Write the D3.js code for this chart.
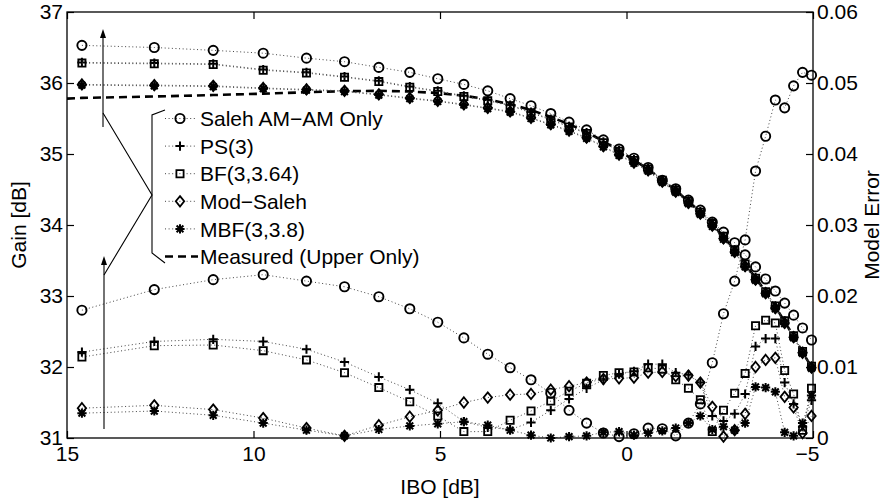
<!DOCTYPE html>
<html>
<head>
<meta charset="utf-8">
<script src="https://cdn.jsdelivr.net/npm/d3@7"></script>
<style>
  html, body { margin: 0; padding: 0; background: #fff; }
  svg { display: block; }
  text { font-family: "Liberation Sans", Arial, Helvetica, sans-serif; fill: #000; }
</style>
</head>
<body>
<svg id="chart" width="884" height="499"></svg>
<script>
// Input back-off (dB) of every model sample point
const ibo = [14.60, 12.66, 11.08, 9.74, 8.58, 7.56, 6.64, 5.81, 5.06, 4.36, 3.72, 3.12, 2.56, 2.03, 1.54, 1.07, 0.62, 0.20, -0.20, -0.58, -0.96, -1.32, -1.66, -1.98, -2.30, -2.60, -2.90, -3.18, -3.46, -3.73, -3.99, -4.24, -4.48, -4.72, -4.96];

// Gain of each model (dB, left axis)
const gainSaleh = [36.53, 36.50, 36.46, 36.42, 36.35, 36.30, 36.22, 36.15, 36.06, 35.98, 35.89, 35.78, 35.68, 35.57, 35.45, 35.34, 35.20, 35.07, 34.94, 34.81, 34.63, 34.51, 34.35, 34.21, 34.04, 33.90, 33.75, 33.58, 33.41, 33.24, 33.07, 32.90, 32.73, 32.55, 32.38];
const gainPS    = [36.29, 36.28, 36.27, 36.19, 36.15, 36.09, 36.03, 35.95, 35.89, 35.82, 35.76, 35.69, 35.59, 35.49, 35.39, 35.30, 35.17, 35.05, 34.92, 34.80, 34.64, 34.50, 34.34, 34.19, 34.03, 33.84, 33.65, 33.45, 33.26, 33.06, 32.86, 32.65, 32.44, 32.22, 32.01];
const gainBF    = [36.28, 36.27, 36.26, 36.18, 36.14, 36.08, 36.02, 35.94, 35.88, 35.81, 35.75, 35.68, 35.58, 35.48, 35.38, 35.29, 35.16, 35.04, 34.91, 34.79, 34.63, 34.49, 34.33, 34.18, 34.02, 33.84, 33.65, 33.45, 33.25, 33.06, 32.86, 32.65, 32.44, 32.22, 32.01];
const gainMod   = [35.98, 35.97, 35.96, 35.93, 35.91, 35.89, 35.84, 35.79, 35.75, 35.70, 35.65, 35.60, 35.51, 35.42, 35.33, 35.23, 35.11, 34.99, 34.88, 34.77, 34.61, 34.47, 34.31, 34.16, 33.99, 33.81, 33.62, 33.42, 33.23, 33.04, 32.83, 32.62, 32.42, 32.20, 31.99];
const gainMBF   = [35.97, 35.96, 35.95, 35.92, 35.90, 35.88, 35.83, 35.78, 35.74, 35.69, 35.64, 35.59, 35.50, 35.41, 35.32, 35.22, 35.10, 34.98, 34.87, 34.76, 34.60, 34.46, 34.30, 34.15, 33.98, 33.80, 33.61, 33.41, 33.22, 33.03, 32.82, 32.61, 32.41, 32.19, 31.98];

// Measured gain, upper curve only (dB)
const measIbo  = [15.00, 14.60, 12.66, 11.08, 9.74, 8.58, 7.56, 6.64, 5.81, 5.06, 4.36, 3.72, 3.12, 2.56, 2.03, 1.54, 1.07, 0.62, 0.20, -0.20, -0.58, -0.96, -1.32, -1.66, -1.98, -2.30, -2.60, -2.90, -3.18, -3.46, -3.73, -3.99, -4.24, -4.48, -4.72, -4.96];
const measGain = [35.78, 35.79, 35.81, 35.83, 35.85, 35.87, 35.885, 35.89, 35.88, 35.86, 35.82, 35.77, 35.70, 35.62, 35.52, 35.42, 35.31, 35.18, 35.05, 34.91, 34.79, 34.63, 34.49, 34.33, 34.18, 34.01, 33.84, 33.65, 33.45, 33.26, 33.06, 32.85, 32.64, 32.43, 32.21, 32.00];

// Model error of each model (right axis)
const errSaleh = [0.0180, 0.0209, 0.0223, 0.0230, 0.0221, 0.0213, 0.0199, 0.0182, 0.0163, 0.0141, 0.0118, 0.0099, 0.0082, 0.0063, 0.0039, 0.0021, 0.0007, 0.0002, 0.0006, 0.0014, 0.0013, 0.0003, 0.0021, 0.0048, 0.0106, 0.0175, 0.0221, 0.0279, 0.0376, 0.0425, 0.0476, 0.0465, 0.0496, 0.0515, 0.0511];
const errPS    = [0.0121, 0.0136, 0.0139, 0.0136, 0.0125, 0.0107, 0.0086, 0.0068, 0.0049, 0.0023, 0.0015, 0.0012, 0.0022, 0.0039, 0.0055, 0.0070, 0.0082, 0.0090, 0.0094, 0.0104, 0.0104, 0.0092, 0.0089, 0.0078, 0.0031, 0.0024, 0.0034, 0.0062, 0.0129, 0.0140, 0.0140, 0.0078, 0.0048, 0.0016, 0.0053];
const errBF    = [0.0114, 0.0130, 0.0131, 0.0123, 0.0110, 0.0092, 0.0071, 0.0051, 0.0031, 0.0009, 0.0009, 0.0025, 0.0038, 0.0052, 0.0066, 0.0077, 0.0088, 0.0092, 0.0093, 0.0099, 0.0097, 0.0082, 0.0070, 0.0054, 0.0009, 0.0039, 0.0063, 0.0091, 0.0158, 0.0166, 0.0162, 0.0095, 0.0062, 0.0011, 0.0070];
const errMod   = [0.0042, 0.0046, 0.0040, 0.0028, 0.0014, 0.0003, 0.0018, 0.0030, 0.0039, 0.0050, 0.0057, 0.0061, 0.0062, 0.0068, 0.0073, 0.0078, 0.0083, 0.0084, 0.0085, 0.0092, 0.0093, 0.0087, 0.0088, 0.0078, 0.0044, 0.0002, 0.0011, 0.0034, 0.0100, 0.0110, 0.0113, 0.0058, 0.0043, 0.0007, 0.0031];
const errMBF   = [0.0035, 0.0038, 0.0032, 0.0021, 0.0011, 0.0003, 0.0012, 0.0017, 0.0020, 0.0023, 0.0018, 0.0011, 0.0004, 0.0000, 0.0002, 0.0003, 0.0008, 0.0009, 0.0004, 0.0007, 0.0010, 0.0014, 0.0021, 0.0031, 0.0012, 0.0016, 0.0011, 0.0021, 0.0072, 0.0071, 0.0065, 0.0008, 0.0003, 0.0021, 0.0060];

// Axis ticks and legend text
const xTicks = [15, 10, 5, 0, -5];
const gainTicks = [31, 32, 33, 34, 35, 36, 37];
const errTicks = [0, 0.01, 0.02, 0.03, 0.04, 0.05, 0.06];
const legendLabels = ["Saleh AM\u2212AM Only", "PS(3)", "BF(3,3.64)", "Mod\u2212Saleh", "MBF(3,3.8)", "Measured (Upper Only)"];
const markerTypes = ["circle", "plus", "square", "diamond", "star"];

const series = [
  { marker: markerTypes[0], gain: gainSaleh, err: errSaleh },
  { marker: markerTypes[1], gain: gainPS,    err: errPS },
  { marker: markerTypes[2], gain: gainBF,    err: errBF },
  { marker: markerTypes[3], gain: gainMod,   err: errMod },
  { marker: markerTypes[4], gain: gainMBF,   err: errMBF }
];

const svg = d3.select("#chart");
const L = 67, R = 813, T = 12, B = 438;
const FS = 21;

const x = d3.scaleLinear().domain([15, -5]).range([L, R]);
const yGain = d3.scaleLinear().domain([31, 37]).range([B, T]);
const yErr = d3.scaleLinear().domain([0, 0.06]).range([B, T]);

// marker shapes
function markerPath(type, cx, cy) {
  switch (type) {
    case "square": return `M${cx-3.6},${cy-3.6}H${cx+3.6}V${cy+3.6}H${cx-3.6}Z`;
    case "diamond": return `M${cx},${cy-5.2}L${cx+4.2},${cy}L${cx},${cy+5.2}L${cx-4.2},${cy}Z`;
    case "plus": return `M${cx-4.6},${cy}H${cx+4.6}M${cx},${cy-4.6}V${cy+4.6}`;
    case "star": return `M${cx-4.6},${cy}H${cx+4.6}M${cx},${cy-4.6}V${cy+4.6}` +
                        `M${cx-3.4},${cy-3.4}L${cx+3.4},${cy+3.4}M${cx-3.4},${cy+3.4}L${cx+3.4},${cy-3.4}`;
  }
  return "";
}
function drawMarker(g, type, cx, cy) {
  if (type === "circle") {
    g.append("circle").attr("cx", cx).attr("cy", cy).attr("r", 4.6)
      .attr("fill", "none").attr("stroke", "#000").attr("stroke-width", 1.9);
  } else {
    g.append("path").attr("d", markerPath(type, cx, cy))
      .attr("fill", "none").attr("stroke", "#000")
      .attr("stroke-width", type === "star" || type === "plus" ? 2 : 1.8);
  }
}

const plot = svg.append("g");
const dotted = { stroke: "#444", width: 1, dash: "1,2.6" };

// measured gain: thick dashed line
plot.append("path")
  .datum(measIbo.map((v, i) => [v, measGain[i]]))
  .attr("d", d3.line().x(d => x(d[0])).y(d => yGain(d[1])))
  .attr("fill", "none").attr("stroke", "#000").attr("stroke-width", 2.6)
  .attr("stroke-dasharray", "8,5");

// model curves: gain (left axis) and error (right axis)
series.forEach(s => {
  [[s.gain, yGain], [s.err, yErr]].forEach(([vals, ys]) => {
    const pts = ibo.map((v, i) => [x(v), ys(vals[i])]);
    plot.append("path").datum(pts)
      .attr("d", d3.line())
      .attr("fill", "none").attr("stroke", dotted.stroke)
      .attr("stroke-width", dotted.width).attr("stroke-dasharray", dotted.dash);
    const mg = plot.append("g");
    pts.forEach(p => drawMarker(mg, s.marker, p[0], p[1]));
  });
});

// axes with inward ticks
function styleAxis(g) {
  g.select(".domain").remove();
  g.selectAll(".tick line").attr("stroke", "#000").attr("stroke-width", 1.2);
  g.selectAll(".tick text").attr("font-size", FS)
    .attr("font-family", "'Liberation Sans', Arial, Helvetica, sans-serif");
}
const xAxisG = svg.append("g").attr("transform", `translate(0,${B})`)
  .call(d3.axisBottom(x).tickValues(xTicks).tickSize(-7).tickPadding(8)).call(styleAxis);
// digits stay centred on the tick; the minus sign hangs to the left
xAxisG.selectAll(".tick text").filter(d => d < 0).attr("dx", -6);
svg.append("g").attr("transform", `translate(0,${T})`)
  .call(d3.axisTop(x).tickValues(xTicks).tickSize(-7).tickFormat("")).call(styleAxis);
svg.append("g").attr("transform", `translate(${L},0)`)
  .call(d3.axisLeft(yGain).tickValues(gainTicks).tickSize(-7).tickPadding(4)
    .tickFormat(d3.format("d"))).call(styleAxis);
svg.append("g").attr("transform", `translate(${R},0)`)
  .call(d3.axisRight(yErr).tickValues(errTicks).tickSize(-7).tickPadding(4)
    .tickFormat(d => d === 0 ? "0" : d3.format(".2f")(d))).call(styleAxis);

// frame
svg.append("rect").attr("x", L).attr("y", T).attr("width", R - L).attr("height", B - T)
  .attr("fill", "none").attr("stroke", "#000").attr("stroke-width", 1.3);

// axis titles
svg.append("text").attr("transform", `translate(${(L + R) / 2},494)`)
  .attr("text-anchor", "middle").attr("font-size", FS).text("IBO [dB]");
svg.append("text").attr("transform", `translate(26,${(T + B) / 2}) rotate(-90)`)
  .attr("text-anchor", "middle").attr("font-size", FS).text("Gain [dB]");
svg.append("text").attr("transform", `translate(879,${(T + B) / 2}) rotate(-90)`)
  .attr("text-anchor", "middle").attr("font-size", FS).text("Model Error");

// legend
const leg = svg.append("g");
const rowY = i => 118.5 + i * 27.6;
legendLabels.forEach((lab, i) => {
  const cy = rowY(i);
  if (i < 5) {
    leg.append("line").attr("x1", 165).attr("x2", 195).attr("y1", cy).attr("y2", cy)
      .attr("stroke", dotted.stroke).attr("stroke-width", dotted.width).attr("stroke-dasharray", dotted.dash);
    drawMarker(leg, markerTypes[i], 180, cy);
  } else {
    leg.append("line").attr("x1", 165).attr("x2", 198).attr("y1", cy).attr("y2", cy)
      .attr("stroke", "#000").attr("stroke-width", 2.6).attr("stroke-dasharray", "8,5");
  }
  leg.append("text").attr("x", 200).attr("y", cy + 7.6).attr("font-size", FS).text(lab);
});

// bracket grouping the legend, with pointers to the two curve groups
const ann = svg.append("g").attr("fill", "none").attr("stroke", "#000").attr("stroke-width", 1.1);
ann.append("path").attr("d", "M165,110 L152,115 L152,253 L165,263");
ann.append("path").attr("d", "M103,113 L152,195 L104,275");
ann.append("path").attr("d", "M103,127 V36");
ann.append("path").attr("d", "M104,429 V263");
svg.append("path").attr("d", "M103,29 L100,38 L106,38 Z").attr("fill", "#000");
svg.append("path").attr("d", "M104,256 L101,265 L107,265 Z").attr("fill", "#000");
</script>
</body>
</html>
